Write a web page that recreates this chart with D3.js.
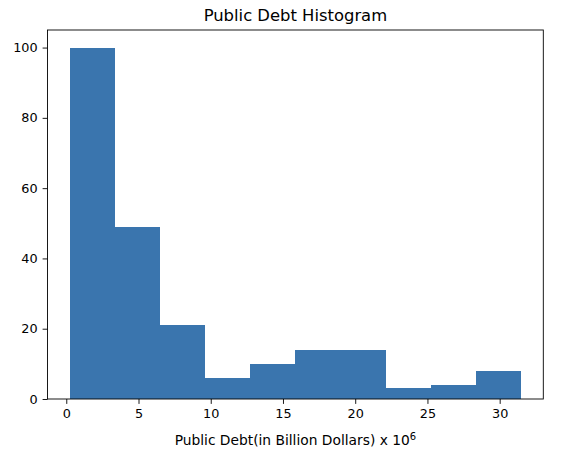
<!DOCTYPE html>
<html><head><meta charset="utf-8">
<script src="https://cdn.jsdelivr.net/npm/d3@7"></script>
<style>body{margin:0;background:#fff}svg{display:block;font-family:"DejaVu Sans",sans-serif}</style>
</head><body><svg id="c" width="576" height="456"></svg>
<script>
const binEdges = [0.26, 3.38, 6.50, 9.62, 12.74, 15.86, 18.98, 22.10, 25.22, 28.34, 31.46];
const counts = [100, 49, 21, 6, 10, 14, 14, 3, 4, 8];
const xTicks = [0, 5, 10, 15, 20, 25, 30];
const yTicks = [0, 20, 40, 60, 80, 100];
const title = "Public Debt Histogram";

const svg = d3.select("#c");
const L = 47.5, R = 543.3, T = 30, B = 399;
const span = binEdges[binEdges.length-1] - binEdges[0];
const x = d3.scaleLinear().domain([binEdges[0] - span*0.05, binEdges[binEdges.length-1] + span*0.05]).range([L, R]);
const y = d3.scaleLinear().domain([0, d3.max(counts)*1.05]).range([B, T]);

const bins = counts.map((c,i)=>({x0:binEdges[i], x1:binEdges[i+1], c}));
svg.append("g").attr("shape-rendering", "crispEdges").selectAll("rect").data(bins).join("rect")
  .attr("x", d=>x(d.x0)).attr("width", d=>x(d.x1)-x(d.x0))
  .attr("y", d=>y(d.c)).attr("height", d=>y(0)-y(d.c))
  .attr("fill", "#3a75ae");

const xa = svg.append("g").attr("transform", `translate(0,${B})`)
  .call(d3.axisBottom(x).tickValues(xTicks).tickSize(4.9).tickPadding(5).tickFormat(d3.format("d")));
const ya = svg.append("g").attr("transform", `translate(${L},0)`)
  .call(d3.axisLeft(y).tickValues(yTicks).tickSize(4.9).tickPadding(5).tickFormat(d3.format("d")));
[xa, ya].forEach(a=>{
  a.select(".domain").remove();
  a.selectAll("text").attr("font-size", 12.8).attr("fill", "#000").attr("font-family", "DejaVu Sans");
  a.selectAll("line").attr("stroke", "#000").attr("stroke-width", 0.9);
});

svg.append("rect").attr("x", L).attr("y", T).attr("width", R-L).attr("height", B-T)
  .attr("fill", "none").attr("stroke", "#000").attr("stroke-width", 0.9);

svg.append("text").attr("x", (L+R)/2).attr("y", 21).attr("text-anchor", "middle")
  .attr("font-size", 16.4).attr("fill", "#000").text(title);

const xl = svg.append("text").attr("x", (L+R)/2).attr("y", 445).attr("text-anchor", "middle")
  .attr("font-size", 13.8).attr("fill", "#000");
xl.append("tspan").text("Public Debt(in Billion Dollars) x 10");
xl.append("tspan").attr("font-size", 10).attr("dy", -5.5).text("6");
</script></body></html>
